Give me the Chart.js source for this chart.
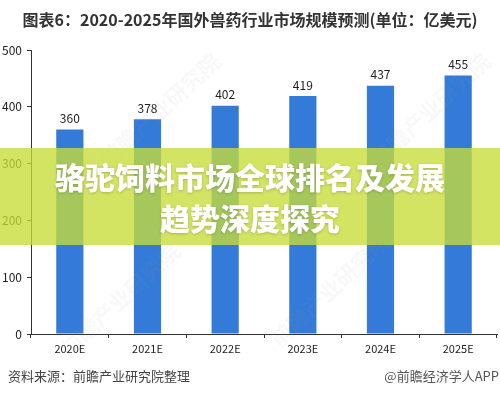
<!DOCTYPE html>
<html>
<head>
<meta charset="utf-8">
<script src="https://cdn.jsdelivr.net/npm/chart.js@4.4.1/dist/chart.umd.min.js"></script>
<style>
  html, body { margin: 0; padding: 0; background: #fff; }
  #wrap { width: 500px; height: 395px; }
</style>
</head>
<body>
<div id="wrap"><canvas id="market" width="500" height="395"></canvas></div>
<script>
// データ
var years = ["2020E", "2021E", "2022E", "2023E", "2024E", "2025E"];
var marketSize = [360, 378, 402, 419, 437, 455];
var yTicks = [0, 100, 200, 300, 400, 500];

var titleText = "图表6：2020-2025年国外兽药行业市场规模预测(单位：亿美元)";
var sourceText = "资料来源：前瞻产业研究院整理";
var brandText = "@前瞻经济学人APP";
var bannerLines = ["骆驼饲料市场全球排名及发展", "趋势深度探究"];
var watermark = "前瞻产业研究院";

var cjk = '"Noto Sans CJK SC", "Noto Sans", sans-serif';

//タイトル・出典・透かし・バナーを描く
var decorPlugin = {
    id: 'decor',
    beforeDraw: function(chart) {
        var ctx = chart.ctx;
        ctx.save();
        ctx.fillStyle = '#fff';
        ctx.fillRect(0, 0, chart.width, chart.height);
        ctx.restore();
    },
    afterDatasetsDraw: function(chart) {
        var ctx = chart.ctx;
        var meta = chart.getDatasetMeta(0);
        //数値ラベル
        ctx.save();
        ctx.font = '12px ' + cjk;
        ctx.fillStyle = '#222';
        ctx.textAlign = 'center';
        ctx.textBaseline = 'bottom';
        meta.data.forEach(function(bar, i) {
            ctx.fillText(String(marketSize[i]), bar.x, bar.y - 5);
        });
        ctx.restore();
    },
    afterDraw: function(chart) {
        var ctx = chart.ctx;
        var w = chart.width;

        //透かし
        ctx.save();
        ctx.font = 'bold 22px ' + cjk;
        ctx.fillStyle = 'rgba(150,160,175,0.07)';
        ctx.textAlign = 'center';
        ctx.textBaseline = 'middle';
        [[160, 110], [430, 110], [120, 300], [330, 290]].forEach(function(p) {
            ctx.save();
            ctx.translate(p[0], p[1]);
            ctx.rotate(-0.75);
            ctx.fillText(watermark, 0, 0);
            ctx.restore();
        });
        ctx.restore();

        //タイトル
        ctx.save();
        ctx.font = 'bold 16px ' + cjk;
        ctx.fillStyle = '#333';
        ctx.textAlign = 'center';
        ctx.textBaseline = 'middle';
        ctx.fillText(titleText, w / 2, 20, 458);
        ctx.restore();

        //出典
        ctx.save();
        ctx.font = '13px ' + cjk;
        ctx.fillStyle = '#444';
        ctx.textBaseline = 'middle';
        ctx.textAlign = 'left';
        ctx.fillText(sourceText, 8, 376);
        ctx.fillStyle = '#555';
        ctx.textAlign = 'right';
        ctx.fillText(brandText, 499, 376);
        ctx.restore();

        //バナー
        ctx.save();
        ctx.fillStyle = 'rgba(198,220,55,0.78)';
        ctx.fillRect(0, 148, w, 97);
        ctx.font = '900 30px ' + cjk;
        ctx.fillStyle = '#fff';
        ctx.textAlign = 'center';
        ctx.textBaseline = 'middle';
        ctx.shadowColor = 'rgba(0,0,0,0.2)';
        ctx.shadowBlur = 3;
        ctx.shadowOffsetY = 1;
        ctx.fillText(bannerLines[0], w / 2, 178, 390);
        ctx.fillText(bannerLines[1], w / 2, 219);
        ctx.restore();
    }
};

var ctx = document.getElementById('market').getContext('2d');
var chart = new Chart(ctx, {
    type: 'bar',
    data: {
        labels: years,
        datasets: [{
            data: marketSize,
            backgroundColor: '#347ad8',
            borderWidth: 0,
            barPercentage: 0.35,
            categoryPercentage: 1.0
        }]
    },
    options: {
        responsive: false,
        animation: false,
        layout: { padding: { top: 50, right: 3, bottom: 31, left: 0 } },
        plugins: {
            legend: { display: false },
            tooltip: { enabled: false }
        },
        scales: {
            x: {
                grid: { display: true, drawOnChartArea: false, drawTicks: true, tickLength: 4, color: '#333', offset: true },
                border: { display: true, color: '#333', width: 1 },
                ticks: { color: '#222', font: { size: 11, family: cjk }, padding: 4, maxRotation: 0 },
                afterFit: function(scale) { scale.height = 30; }
            },
            y: {
                min: 0,
                max: 500,
                afterBuildTicks: function(scale) {
                    scale.ticks = yTicks.map(function(v) { return { value: v }; });
                },
                grid: { display: true, drawOnChartArea: false, drawTicks: true, tickLength: 4, color: '#333' },
                border: { display: true, color: '#333', width: 1 },
                ticks: { color: '#222', font: { size: 12, family: cjk }, padding: 5 },
                afterFit: function(scale) { scale.width = 31; }
            }
        }
    },
    plugins: [decorPlugin]
});
</script>
</body>
</html>
